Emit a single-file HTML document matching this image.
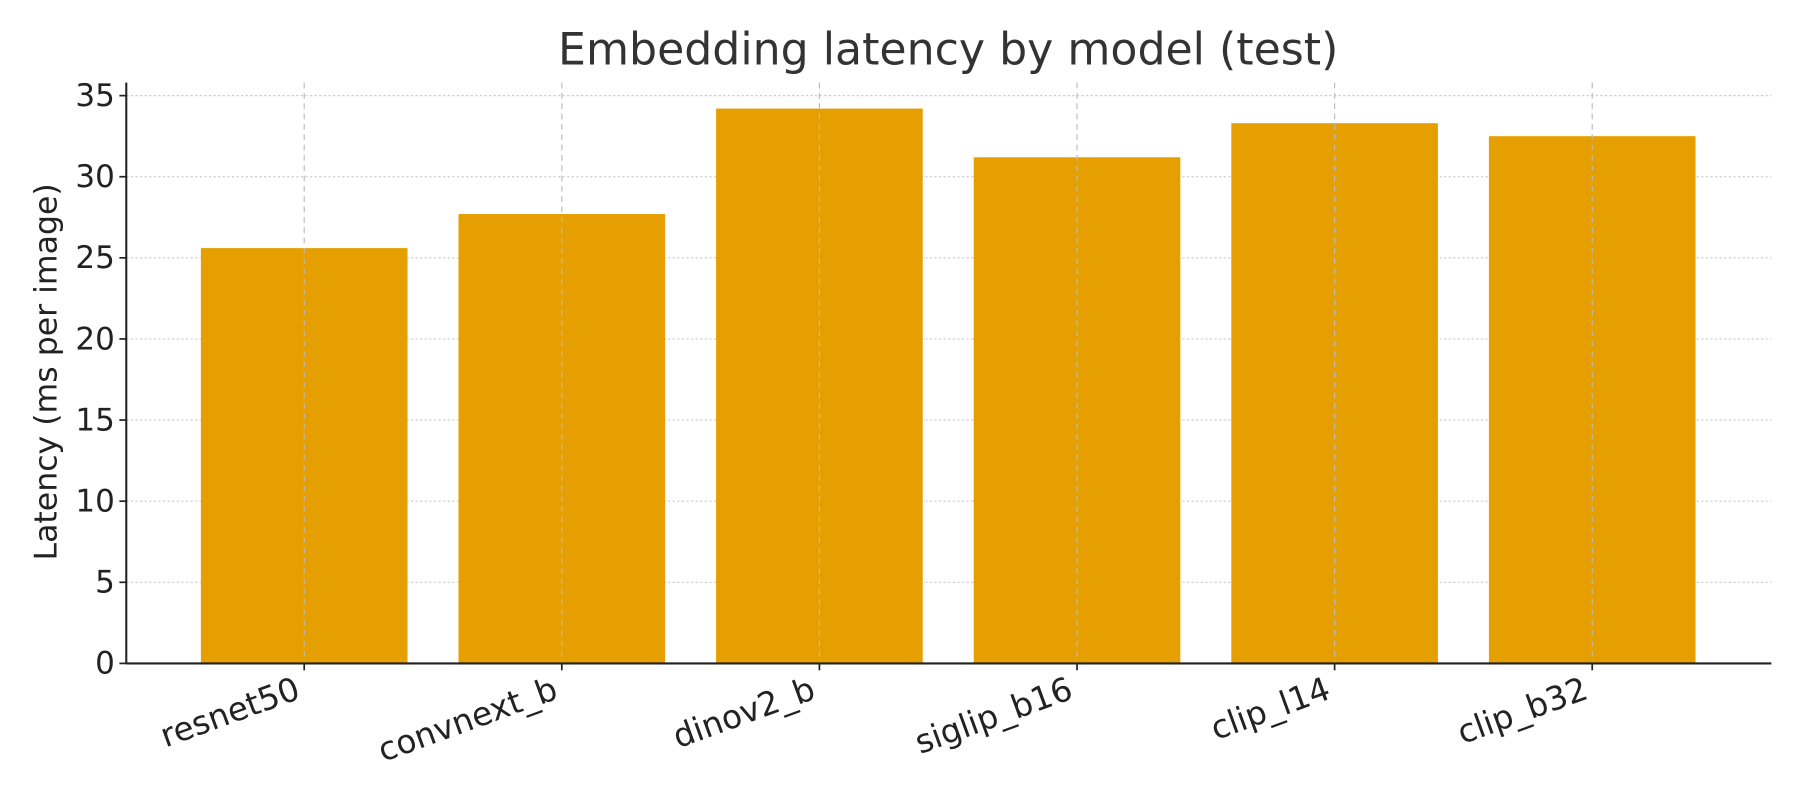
<!DOCTYPE html>
<html><head><meta charset="utf-8"><style>html,body{margin:0;padding:0;background:#fff}svg{display:block}</style></head>
<body>
<svg id="chart" width="1800" height="800" viewBox="0 0 1568 697" preserveAspectRatio="none" xmlns="http://www.w3.org/2000/svg" font-family="'DejaVu Sans','Liberation Sans',sans-serif">
<rect width="1568" height="697" fill="#fff"/>
<text x="826" y="56" text-anchor="middle" font-size="38.5" fill="#333">Embedding latency by model (test)</text>
<text transform="translate(49,324) rotate(-90)" text-anchor="middle" font-size="27.5" fill="#222">Latency (ms per image)</text>
<g id="grid"></g><g id="bars"></g><g id="axes"></g>
</svg>
<script>
const categories = ["resnet50","convnext_b","dinov2_b","siglip_b16","clip_l14","clip_b32"];
const latency = [25.6, 27.7, 34.2, 31.2, 33.3, 32.5];
const yTicks = [0,5,10,15,20,25,30,35];
const NS="http://www.w3.org/2000/svg";
const L=110,R=1543,T=72,B=578,yMax=35.8;
const y=v=>B-(v/yMax)*(B-T);
const step=224.4, x0=265;
const x=i=>x0+step*i;
const bw=180;
function mk(tag,attrs,parent){const e=document.createElementNS(NS,tag);for(const k in attrs)e.setAttribute(k,attrs[k]);parent.appendChild(e);return e;}
const grid=document.getElementById('grid'),bars=document.getElementById('bars'),axes=document.getElementById('axes');
yTicks.forEach(t=>{
  const g=mk('line',{x1:L,x2:R,y1:y(t),y2:y(t),stroke:'#ccc','stroke-width':1,'stroke-dasharray':'2,2'},grid);
  
  
  const tk=mk('line',{x1:L-6,x2:L,y1:y(t),y2:y(t),stroke:'#222','stroke-width':1.5},axes);
  
  
  const tl=mk('text',{x:L-10,y:y(t)+9,'text-anchor':'end','font-size':27,fill:'#222'},axes);
  tl.textContent=t;
  
  
});
categories.forEach((c,i)=>{
  const b=mk('rect',{x:x(i)-bw/2,y:y(latency[i]),width:bw,height:B-y(latency[i]),fill:'#E69F00'},bars);
  
  
  const g=mk('line',{x1:x(i),x2:x(i),y1:T,y2:B,stroke:'#bbb','stroke-width':1,'stroke-dasharray':'5,4'},bars);
  
  
  const tk=mk('line',{x1:x(i),x2:x(i),y1:B,y2:B+6,stroke:'#222','stroke-width':1.5},axes);
  
  
  const tl=mk('text',{transform:`translate(${x(i)-2},${B+30}) rotate(-20)`,'text-anchor':'end','font-size':28.5,fill:'#222'},axes);
  tl.textContent=c;
  
  
});
const ly=mk('line',{x1:L,x2:L,y1:T,y2:B,stroke:'#222','stroke-width':1.8},axes);


const lx=mk('line',{x1:L,x2:R,y1:B,y2:B,stroke:'#222','stroke-width':1.8},axes);


</script>
</body></html>
